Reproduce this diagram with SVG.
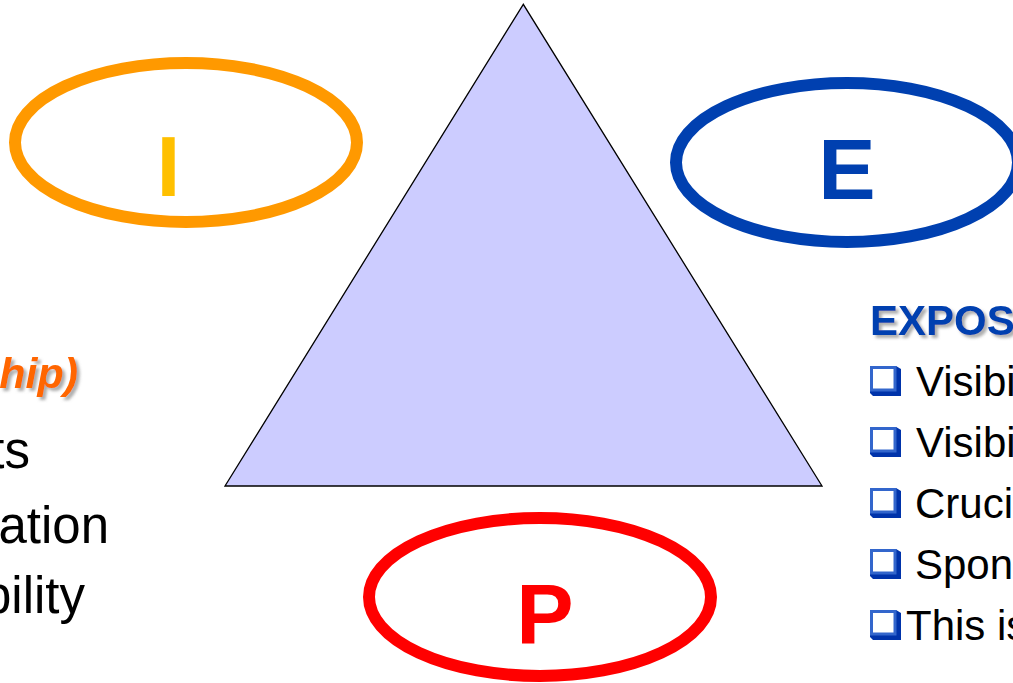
<svg xmlns="http://www.w3.org/2000/svg" width="1013" height="683" viewBox="0 0 1013 683">
  <style>
    .ring { fill: none; stroke-width: 12; }
    .big { font-family: "Liberation Sans", Arial, sans-serif; font-weight: bold; font-size: 86px; text-anchor: middle; }
    .body { font-family: "Liberation Sans", Arial, sans-serif; font-size: 51px; fill: #000; }
    .rbody { font-family: "Liberation Sans", Arial, sans-serif; font-size: 42px; fill: #000; }
    .head { font-family: "Liberation Sans", Arial, sans-serif; font-weight: bold; font-size: 42px; fill: #0040B0; }
    .ohead { font-family: "Liberation Sans", Arial, sans-serif; font-weight: bold; font-style: italic; font-size: 43px; fill: #FF6600; }
  </style>
  <defs>
    <filter id="shadow" x="-10%" y="-20%" width="130%" height="150%">
      <feDropShadow dx="3" dy="3" stdDeviation="1.5" flood-color="#777" flood-opacity="0.6"/>
    </filter>
    <g id="cb">
      <polygon points="0,0 26,0 31,3 31,30 3,30 0,27" fill="#0033AA"/>
      <rect x="1.5" y="1.5" width="23.5" height="22.5" fill="#fff" stroke="#3366CC" stroke-width="3"/>
    </g>
  </defs>

  <g id="triangle">
    <polygon points="523.3,4.3 225,486 822,486" fill="#CCCCFF" stroke="#000" stroke-width="1.3" stroke-linejoin="miter"/>
  </g>

  <g id="node-I">
    <ellipse class="ring" cx="186" cy="142.5" rx="171" ry="79.5" stroke="#FF9900"/>
    <text class="big" x="168.5" y="196" fill="#FFC000">I</text>
  </g>

  <g id="node-E">
    <ellipse class="ring" cx="847" cy="162.5" rx="171" ry="79.5" stroke="#0040B0"/>
    <text class="big" x="847" y="199" fill="#0040B0">E</text>
  </g>

  <g id="node-P">
    <ellipse class="ring" cx="540" cy="597" rx="171" ry="79" stroke="#FF0000"/>
    <text class="big" x="545" y="644" fill="#FF0000">P</text>
  </g>

  <g id="left-text">
    <text class="ohead" x="78" y="388" text-anchor="end" filter="url(#shadow)">hip)</text>
    <text class="body" x="30" y="468" text-anchor="end">ts</text>
    <text class="body" x="109" y="543" text-anchor="end">ation</text>
    <text class="body" x="85" y="613" text-anchor="end">bility</text>
  </g>

  <g id="right-text">
    <text class="head" x="870" y="335" filter="url(#shadow)">EXPOS</text>
    <use href="#cb" x="870" y="366"/>
    <text class="rbody" x="916" y="396">Visibi</text>
    <use href="#cb" x="870" y="427"/>
    <text class="rbody" x="916" y="457">Visibi</text>
    <use href="#cb" x="870" y="488"/>
    <text class="rbody" x="915" y="518">Cruci</text>
    <use href="#cb" x="870" y="549"/>
    <text class="rbody" x="915" y="579">Spon</text>
    <use href="#cb" x="870" y="610"/>
    <text class="rbody" x="906" y="640">This is</text>
  </g>
</svg>
